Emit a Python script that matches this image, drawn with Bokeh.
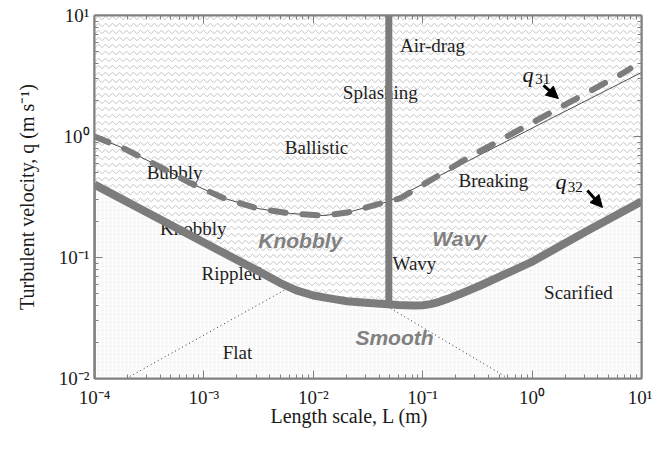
import numpy as np
from bokeh.plotting import figure
from bokeh.models import (Range1d, LogAxis, LogTicker, CustomJSTickFormatter,
                          Arrow, NormalHead, Title)
from bokeh.core.properties import value
from bokeh.embed import file_html
from bokeh.resources import INLINE

# ---------------- data ----------------
X_MIN, X_MAX = 1e-4, 1e1
Y_MIN, Y_MAX = 1e-2, 1e1

# lower thick boundary (with smooth minimum)
solid_L = [1e-4, 1e-3, 3e-3, 5e-3, 7e-3, 1e-2, 1.5e-2, 2.04e-2, 3e-2, 4.1e-2, 6e-2,
           8.24e-2, 0.10, 0.118, 0.14, 0.169, 0.22, 0.337, 0.97, 3.2, 10.0]
solid_q = [0.40, 0.133, 0.079, 0.0615, 0.0535, 0.0485, 0.0455, 0.0435, 0.0422, 0.0414,
           0.0405, 0.0401, 0.0403, 0.0412, 0.0428, 0.0455, 0.050, 0.0587, 0.091, 0.166, 0.29]

# thin black line (q31 boundary)
thin_L = [1e-4, 1.84e-4, 3.77e-4, 7.6e-4, 1.51e-3, 3.1e-3, 6.2e-3, 1.24e-2, 2.04e-2,
          4.1e-2, 4.9e-2, 0.146, 0.262, 1.38, 10.0]
thin_q = [1.0, 0.80, 0.575, 0.41, 0.31, 0.254, 0.231, 0.222, 0.235,
          0.279, 0.29, 0.48, 0.63, 1.36, 3.38]

# thick dashed line (q31)
dash_L = [1e-4, 1.84e-4, 3.77e-4, 7.6e-4, 1.51e-3, 3.1e-3, 6.2e-3, 1.24e-2, 2.04e-2,
          4.1e-2, 4.9e-2, 6.3e-2, 0.262, 1.32, 6.7, 7.9]
dash_q = [1.0, 0.80, 0.575, 0.41, 0.31, 0.254, 0.231, 0.222, 0.235,
          0.279, 0.29, 0.31, 0.67, 1.49, 3.32, 3.65]

# vertical boundary
vert_L = [0.049, 0.049]
vert_q = [10.5, 0.0412]

# dotted lines
dot1_L = [1.95e-4, 5.8e-3]
dot1_q = [0.0100, 0.0555]
dot2_L = [0.0508, 0.608]
dot2_q = [0.038, 0.0100]

# regime labels (plain serif)
reg_text = ["Air-drag", "Splashing", "Ballistic", "Bubbly", "Knobbly", "Rippled",
            "Flat", "Wavy", "Breaking", "Scarified"]
reg_L = [0.123, 0.041, 0.0107, 5.4e-4, 8.0e-4, 1.79e-3, 2.03e-3, 0.084, 0.443, 2.65]
reg_q = [5.65, 2.31, 0.81, 0.504, 0.174, 0.0738, 0.0164, 0.089, 0.433, 0.0514]

# bold italic grey labels
big_text = ["Knobbly", "Wavy", "Smooth"]
big_L = [7.6e-3, 0.217, 0.0552]
big_q = [0.138, 0.1435, 0.0218]

# q labels: main symbol and subscript
qsym_L = [0.817, 1.64]
qsym_q = [3.25, 0.425]
qsub_text = ["31", "32"]
qsub_L = [1.07, 2.12]
qsub_q = [2.96, 0.386]

# arrows (tail -> head)
arr_L0 = [1.27, 3.2]
arr_q0 = [2.64, 0.358]
arr_L1 = [1.74, 4.4]
arr_q1 = [2.06, 0.259]

X_TITLE = "Length scale, L (m)"
Y_TITLE = "Turbulent velocity, q (m s\u207b\u00b9)"

GREY = "#7c7c7c"
SERIF = "Liberation Serif"
SANS = "Liberation Sans"

p = figure(width=652, height=449, x_axis_type="log", y_axis_type="log",
           x_range=Range1d(X_MIN, X_MAX), y_range=Range1d(Y_MIN, Y_MAX),
           output_backend="svg", toolbar_location=None,
           min_border_left=94, min_border_right=11, min_border_top=15, min_border_bottom=71)
p.grid.visible = False
p.outline_line_color = "#808080"
p.outline_line_width = 2
p.background_fill_color = "white"

n = len(solid_L)
# hatched region above the lower boundary
p.varea(x=solid_L, y1=solid_q, y2=[Y_MAX] * n, fill_color="white",
        hatch_pattern="horizontal_wave", hatch_color="#c4c4c4",
        hatch_scale=7, hatch_weight=1)
# light region below
p.varea(x=solid_L, y1=[Y_MIN] * n, y2=solid_q, fill_color="#fcfcfc",
        hatch_pattern="dot", hatch_color="#f0f0f0", hatch_scale=4, hatch_weight=0.5)

# plain regime labels (drawn beneath the boundary lines)
p.text(x=reg_L, y=reg_q, text=reg_text, text_font=value(SERIF), text_font_size="19px",
       text_color="#1e1e1e", text_align="center", text_baseline="middle")

# dotted lines
p.line(dot1_L, dot1_q, line_color="#333333", line_width=1, line_dash="1 3")
p.line(dot2_L, dot2_q, line_color="#333333", line_width=1, line_dash="1 3")

# left edge of lower region
p.line([solid_L[0], solid_L[0]], [Y_MIN, solid_q[0]], line_color="#9a9a9a", line_width=3)

# thin line and dashed q31
p.line(thin_L, thin_q, line_color="#222222", line_width=0.8)
p.line(dash_L, dash_q, line_color=GREY, line_width=6, line_dash="15 17", line_cap="round")

# vertical boundary
p.line(vert_L, vert_q, line_color=GREY, line_width=7)

# lower thick curve
p.line(solid_L, solid_q, line_color=GREY, line_width=8, line_join="round")

p.text(x=big_L, y=big_q, text=big_text, text_font=value(SANS), text_font_size="21px",
       text_font_style="bold italic", text_color="#808080",
       text_align="center", text_baseline="middle")
p.text(x=qsym_L, y=qsym_q, text=["q", "q"], text_font=value(SERIF), text_font_size="22px",
       text_font_style="italic", text_color="#111111", text_align="left",
       text_baseline="alphabetic")
p.text(x=qsub_L, y=qsub_q, text=qsub_text, text_font=value(SERIF), text_font_size="15px",
       text_color="#111111", text_align="left", text_baseline="alphabetic")

for i in range(len(arr_L0)):
    p.add_layout(Arrow(end=NormalHead(size=12, fill_color="black", line_color="black"),
                       x_start=arr_L0[i], y_start=arr_q0[i], x_end=arr_L1[i], y_end=arr_q1[i],
                       line_color="black", line_width=3))

# axes
fmt = CustomJSTickFormatter(code="""
const sup = {"-":"\u207b","0":"\u2070","1":"\u00b9","2":"\u00b2","3":"\u00b3","4":"\u2074",
             "5":"\u2075","6":"\u2076","7":"\u2077","8":"\u2078","9":"\u2079"};
const e = Math.round(Math.log10(tick));
return "10" + String(e).split("").map(c => sup[c]).join("");
""")

def style_axis(ax, show_labels=True):
    ax.ticker = LogTicker(num_minor_ticks=10)
    ax.axis_line_color = "#808080"
    ax.axis_line_width = 2
    ax.major_tick_line_color = "#808080"
    ax.minor_tick_line_color = "#808080"
    ax.major_tick_in = 8
    ax.major_tick_out = 0
    ax.minor_tick_in = 4
    ax.minor_tick_out = 0
    if show_labels:
        ax.formatter = fmt
        ax.major_label_text_font = SERIF
        ax.major_label_text_font_size = "19px"
        ax.major_label_text_color = "#1a1a1a"
        ax.axis_label_text_font = SERIF
        ax.axis_label_text_font_size = "20px"
        ax.axis_label_text_font_style = "normal"
        ax.axis_label_text_color = "#1a1a1a"
    else:
        ax.major_label_text_font_size = "2px"
        ax.major_label_text_alpha = 0
        ax.major_label_standoff = 0

style_axis(p.xaxis[0])
style_axis(p.yaxis[0])
p.xaxis[0].major_label_standoff = 8
p.yaxis[0].major_label_standoff = 5
p.yaxis[0].axis_label = Y_TITLE
p.yaxis[0].axis_label_standoff = 18

top = LogAxis()
right = LogAxis()
style_axis(top, False)
style_axis(right, False)
p.add_layout(top, "above")
p.add_layout(right, "right")

# x-axis title as a Title below the axis (left-offset like the original)
xt = Title(text=X_TITLE, align="left", offset=176, text_font=SERIF,
           text_font_size="20px", text_font_style="normal", text_color="#1a1a1a",
           standoff=-12, vertical_align="top")
p.add_layout(xt, "below")

open("out.html", "w").write(file_html(p, INLINE))
